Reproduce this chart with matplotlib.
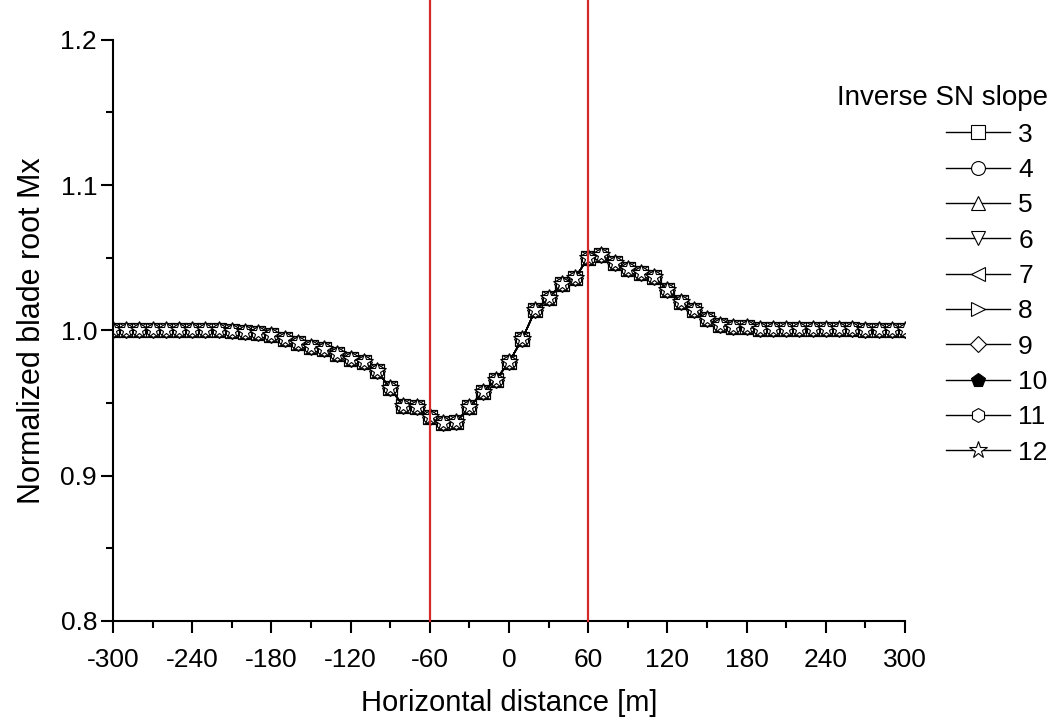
import matplotlib
matplotlib.use("Agg")
import matplotlib.pyplot as plt
import numpy as np
from matplotlib.ticker import MultipleLocator, FormatStrFormatter

plt.rcParams['font.family'] = ['Liberation Sans', 'DejaVu Sans']
plt.rcParams['axes.unicode_minus'] = False

# horizontal distance [m], one point every 10 m
distance = list(range(-300, 301, 10))

# normalized blade root Mx (all SN slopes lie on top of each other)
mx = [1.000, 1.000, 1.000, 1.000, 1.000, 1.000, 1.000, 1.000, 1.000, 0.9995,
      0.999, 0.998, 0.997, 0.994, 0.991, 0.9885, 0.987, 0.984, 0.9805, 0.978,
      0.972, 0.960, 0.948, 0.947, 0.940, 0.936, 0.937, 0.947, 0.9575, 0.966,
      0.978, 0.994, 1.014, 1.022, 1.032, 1.036, 1.050, 1.052, 1.046, 1.0425,
      1.0395, 1.0368, 1.028, 1.0196, 1.014, 1.008, 1.0034, 1.002, 1.002, 1.001,
      1.001, 1.001, 1.001, 1.001, 1.001, 1.001, 1.001, 1.000, 1.000, 1.000,
      1.000]

slopes = ['3', '4', '5', '6', '7', '8', '9', '10', '11', '12']
markers = ['s', 'o', '^', 'v', '<', '>', 'D', 'p', 'h', '*']

red_lines = [-60, 60]

fig = plt.figure(figsize=(10.56, 7.22), dpi=100)
ax = fig.add_axes([0.107, 0.140, 0.750, 0.805])

for s, m in zip(slopes, markers):
    face = 'black' if s == '10' else 'white'
    ms = 13 if m == '*' else 10
    if m == 'D':
        ms = 8.5
    ax.plot(distance, mx, color='black', lw=1.0, marker=m, ms=ms,
            mfc=face, mec='black', mew=0.8, label=s)

for xv in red_lines:
    ax.axvline(xv, 0, 1.07, color='#d42a2a', lw=1.6, clip_on=False, zorder=5)

ax.set_xlim(-300, 300)
ax.set_ylim(0.8, 1.2)
ax.set_xticks(np.arange(-300, 301, 60))
ax.xaxis.set_minor_locator(MultipleLocator(30))
ax.yaxis.set_major_locator(MultipleLocator(0.1))
ax.yaxis.set_minor_locator(MultipleLocator(0.05))
ax.yaxis.set_major_formatter(FormatStrFormatter('%.1f'))

for side in ['top', 'right']:
    ax.spines[side].set_visible(False)
for side in ['left', 'bottom']:
    ax.spines[side].set_linewidth(1.5)

ax.tick_params(which='major', direction='out', length=8.5, width=1.5,
               labelsize=19)
ax.tick_params(axis='x', which='major', pad=11)
ax.tick_params(axis='y', which='major', pad=3)
ax.tick_params(which='minor', direction='out', length=5, width=1.5)

ax.set_xlabel('Horizontal distance [m]', fontsize=21, labelpad=12)
ax.set_ylabel('Normalized blade root Mx', fontsize=22, labelpad=10)

leg = ax.legend(title='Inverse SN slope', loc='upper right',
                bbox_to_anchor=(0.992, 0.882), bbox_transform=fig.transFigure,
                frameon=False, fontsize=19, title_fontsize=20,
                handlelength=2.45, labelspacing=0.43, handletextpad=0.3,
                borderpad=0, borderaxespad=0, alignment='right')

fig.savefig('out.png', dpi=100)
